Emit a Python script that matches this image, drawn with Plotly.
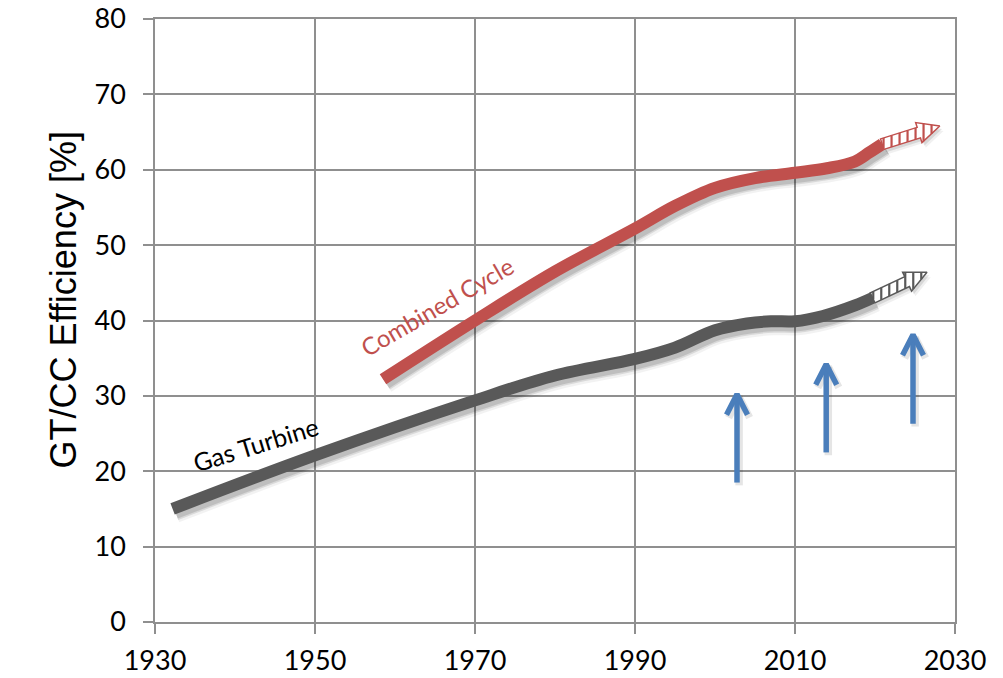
import plotly.graph_objects as go
import math

# ---------------- data ----------------
gt_years = [1932.2, 1950, 1970, 1980, 1990, 1995, 2000, 2004, 2007, 2010, 2013.5, 2017.5, 2019.7]
gt_eff = [15.0, 22.1, 29.4, 32.7, 34.9, 36.4, 38.7, 39.6, 39.9, 39.9, 40.6, 42.0, 43.0]
gt_arrow_tip = (2026.5, 46.4)

cc_years = [1958.5, 1970, 1980, 1990, 1995, 2000, 2005, 2010, 2014, 2017.5, 2019.3, 2020.9]
cc_eff = [32.2, 40.0, 46.5, 52.2, 55.2, 57.6, 58.9, 59.6, 60.2, 61.1, 62.3, 63.4]
cc_arrow_tip = (2028.1, 65.8)

up_years = [2002.75, 2013.9, 2024.75]
up_bottom = [18.5, 22.5, 26.3]
up_top = [30.4, 34.4, 38.3]

x_ticks = [1930, 1950, 1970, 1990, 2010, 2030]
y_ticks = [0, 10, 20, 30, 40, 50, 60, 70, 80]

GRAY = "#595959"
RED = "#C0504D"
BLUE = "#4A7EBB"
GRID = "#8f8f8f"

# ---------------- geometry helpers (from layout) ----------------
# page body has an 8px margin, so the figure is sized/offset to compensate
W_FIG, H_FIG = 995, 670
ML, MR, MT, MB = 147, 48, 11, 56
XR = (1930, 2030)
YR = (0, 80)
PW = W_FIG - ML - MR
PH = H_FIG - MT - MB


def to_px(x, y):
    return (ML + (x - XR[0]) / (XR[1] - XR[0]) * PW,
            MT + (YR[1] - y) / (YR[1] - YR[0]) * PH)


def to_data(px, py):
    return (XR[0] + (px - ML) / PW * (XR[1] - XR[0]),
            YR[1] - (py - MT) / PH * (YR[1] - YR[0]))


SHX = 3 / PW * (XR[1] - XR[0])
SHY = -4 / PH * (YR[1] - YR[0])

fig = go.Figure()


def add_line(xs, ys, color, width):
    for w, a in ((width + 8, 0.05), (width + 3, 0.10), (width, 0.12)):
        fig.add_trace(go.Scatter(
            x=[v + SHX for v in xs], y=[v + SHY for v in ys], mode="lines",
            line=dict(color=f"rgba(0,0,0,{a})", width=w, shape="spline", smoothing=1.0),
            hoverinfo="skip", showlegend=False))
    fig.add_trace(go.Scatter(
        x=xs, y=ys, mode="lines",
        line=dict(color=color, width=width, shape="spline", smoothing=1.0),
        hoverinfo="skip", showlegend=False))


def hatched_arrow(tail, tip, color, sw=5.5, hw=10.5, hl=22, step=8):
    tx, ty = to_px(*tail)
    px_, py_ = to_px(*tip)
    dx, dy = px_ - tx, py_ - ty
    ln = math.hypot(dx, dy)
    ux, uy = dx / ln, dy / ln
    nx, ny = -uy, ux
    bx, by = px_ - ux * hl, py_ - uy * hl
    poly = [
        (tx + nx * sw, ty + ny * sw),
        (bx + nx * sw, by + ny * sw),
        (bx + nx * hw, by + ny * hw),
        (px_, py_),
        (bx - nx * hw, by - ny * hw),
        (bx - nx * sw, by - ny * sw),
        (tx - nx * sw, ty - ny * sw),
    ]
    for off, a in ((5, 0.06), (3, 0.10)):
        sp = [to_data(a_ + off * 0.75, b_ + off) for a_, b_ in poly]
        fig.add_trace(go.Scatter(
            x=[p[0] for p in sp] + [sp[0][0]], y=[p[1] for p in sp] + [sp[0][1]],
            mode="lines", fill="toself", fillcolor=f"rgba(0,0,0,{a})",
            line=dict(width=0), hoverinfo="skip", showlegend=False))
    dp = [to_data(a_, b_) for a_, b_ in poly]
    fig.add_trace(go.Scatter(
        x=[p[0] for p in dp] + [dp[0][0]], y=[p[1] for p in dp] + [dp[0][1]],
        mode="lines", fill="toself", fillcolor="white",
        line=dict(color=color, width=1.5), hoverinfo="skip", showlegend=False))
    xs_s, ys_s = [], []
    xmin = min(p[0] for p in poly)
    xmax = max(p[0] for p in poly)
    sx = xmin + 3
    edges = list(zip(poly, poly[1:] + poly[:1]))
    while sx < xmax - 2:
        hits = []
        for (x1, y1), (x2, y2) in edges:
            if (x1 - sx) * (x2 - sx) < 0:
                t = (sx - x1) / (x2 - x1)
                hits.append(y1 + t * (y2 - y1))
        hits.sort()
        for i in range(0, len(hits) - 1, 2):
            a = to_data(sx, hits[i])
            b = to_data(sx, hits[i + 1])
            xs_s += [a[0], b[0], None]
            ys_s += [a[1], b[1], None]
        sx += step
    fig.add_trace(go.Scatter(x=xs_s, y=ys_s, mode="lines",
                             line=dict(color=color, width=2.2),
                             hoverinfo="skip", showlegend=False))


def up_arrow(x, y0, y1, color, width=5.5, wing_dx=10.5, wing_dy=22):
    tx, ty = to_px(x, y1)
    lw = to_data(tx - wing_dx, ty + wing_dy)
    rw = to_data(tx + wing_dx, ty + wing_dy)
    tip = to_data(tx, ty + 1.5)
    xs = [x, x, None, lw[0], tip[0], rw[0]]
    ys = [y0, tip[1], None, lw[1], tip[1], rw[1]]
    fig.add_trace(go.Scatter(
        x=[v + SHX * 0.7 if v is not None else None for v in xs],
        y=[v + SHY * 0.7 if v is not None else None for v in ys],
        mode="lines", line=dict(color="rgba(0,0,0,0.10)", width=width + 2),
        hoverinfo="skip", showlegend=False))
    fig.add_trace(go.Scatter(x=xs, y=ys, mode="lines",
                             line=dict(color=color, width=width),
                             hoverinfo="skip", showlegend=False))


add_line(gt_years, gt_eff, GRAY, 12)
hatched_arrow((gt_years[-1], gt_eff[-1]), gt_arrow_tip, GRAY)
add_line(cc_years, cc_eff, RED, 12)
hatched_arrow((cc_years[-1], cc_eff[-1]), cc_arrow_tip, RED)

for xv, b, t in zip(up_years, up_bottom, up_top):
    up_arrow(xv, b, t, BLUE)

fig.add_annotation(x=1942.6, y=23.6, text="Gas Turbine", showarrow=False,
                   textangle=-17, font=dict(family="Lato", size=25, color="black"))
fig.add_annotation(x=1965.2, y=41.9, text="Combined Cycle", showarrow=False,
                   textangle=-30, font=dict(family="Lato", size=24, color=RED))
fig.add_annotation(x=(32 - ML) / PW, xref="paper", y=(MT + PH - 292) / PH, yref="paper",
                   text="GT/CC Efficiency [%]", showarrow=False, textangle=-90,
                   font=dict(family="Liberation Sans", size=36, color="black"))

axis_common = dict(showgrid=True, gridcolor=GRID, gridwidth=1.5,
                   showline=True, linecolor=GRID, linewidth=1.5, mirror=True,
                   ticks="outside", ticklen=10, tickcolor=GRID, tickwidth=1.5,
                   zeroline=False, automargin=False, ticklabeloverflow="allow",
                   tickfont=dict(family="Lato", size=27, color="black"))

fig.update_layout(
    width=W_FIG, height=H_FIG,
    margin=dict(l=ML, r=MR, t=MT, b=MB, autoexpand=False),
    paper_bgcolor="white", plot_bgcolor="white",
    showlegend=False,
    xaxis=dict(range=list(XR), tickvals=x_ticks, ticktext=[str(v) for v in x_ticks],
               ticklabelstandoff=4, **axis_common),
    yaxis=dict(range=list(YR), tickvals=y_ticks, ticktext=[str(v) for v in y_ticks],
               ticklabelstandoff=12, **axis_common),
)

fig.write_html("out.html")
